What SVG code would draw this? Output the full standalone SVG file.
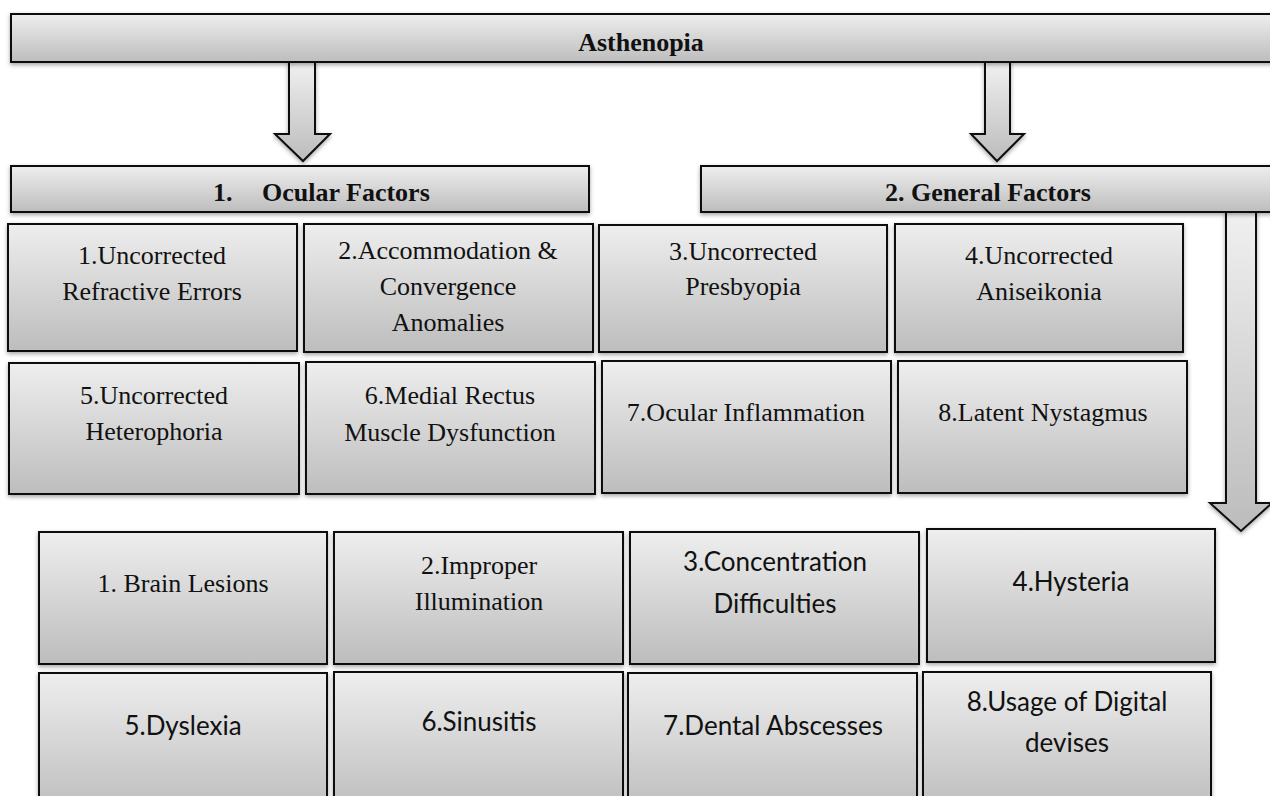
<svg xmlns="http://www.w3.org/2000/svg" width="1270" height="796" viewBox="0 0 1270 796">
<defs>
<linearGradient id="g" x1="0" y1="0" x2="0" y2="1">
<stop offset="0" stop-color="#eeeeee"/>
<stop offset="1" stop-color="#bdbdbd"/>
</linearGradient>
<linearGradient id="ga" x1="0" y1="0" x2="0" y2="1">
<stop offset="0" stop-color="#f0f0f0"/>
<stop offset="1" stop-color="#bcbcbc"/>
</linearGradient>
<filter id="sh" x="-5%" y="-5%" width="110%" height="120%">
<feDropShadow dx="0" dy="2" stdDeviation="2" flood-color="#000" flood-opacity="0.35"/>
</filter>
</defs>
<style>
.b{fill:url(#g);stroke:#111;stroke-width:2;filter:url(#sh)}
.a{fill:url(#ga);stroke:#111;stroke-width:2;stroke-linejoin:miter;filter:url(#sh)}
.t{font-family:"Liberation Serif","Times New Roman",serif;font-size:26px;fill:#111;text-anchor:middle}
.h{font-family:"Liberation Serif","Times New Roman",serif;font-size:26px;font-weight:bold;fill:#111}
.c{font-family:Lato,"Liberation Sans",sans-serif;font-size:26px;fill:#111;text-anchor:middle}
</style>
<rect width="1270" height="796" fill="#fff"/>

<g id="connectors">
<path class="a" d="M289,62 H315 V134 H330 L303,161 L275,134 H289 Z"/>
<path class="a" d="M985,62 H1010 V134 H1024 L997,161 L971,134 H985 Z"/>
<path class="a" d="M1226,212 H1256 V503 H1272 L1241,531 L1210,503 H1226 Z"/>
</g>

<g id="asthenopia">
<rect class="b" x="11" y="14" width="1270" height="48"/>
<text class="h" x="641" y="51" text-anchor="middle">Asthenopia</text>
</g>

<g id="ocular-factors">
<rect class="b" x="11" y="166" width="578" height="46"/>
<text class="h" x="213" y="201">1.</text>
<text class="h" x="262" y="201">Ocular Factors</text>
</g>

<g id="general-factors">
<rect class="b" x="701" y="166" width="580" height="46"/>
<text class="h" x="988" y="201" text-anchor="middle">2. General Factors</text>
</g>

<g id="o1">
<rect class="b" x="8" y="224" width="289" height="127"/>
<text class="t" x="152" y="264">1.Uncorrected</text>
<text class="t" x="152" y="300">Refractive Errors</text>
</g>
<g id="o2">
<rect class="b" x="304" y="224" width="289" height="128"/>
<text class="t" x="448" y="259">2.Accommodation &amp;</text>
<text class="t" x="448" y="295">Convergence</text>
<text class="t" x="448" y="331">Anomalies</text>
</g>
<g id="o3">
<rect class="b" x="599" y="225" width="288" height="127"/>
<text class="t" x="743" y="260">3.Uncorrected</text>
<text class="t" x="743" y="295">Presbyopia</text>
</g>
<g id="o4">
<rect class="b" x="895" y="224" width="288" height="128"/>
<text class="t" x="1039" y="264">4.Uncorrected</text>
<text class="t" x="1039" y="300">Aniseikonia</text>
</g>
<g id="o5">
<rect class="b" x="9" y="363" width="290" height="131"/>
<text class="t" x="154" y="404">5.Uncorrected</text>
<text class="t" x="154" y="440">Heterophoria</text>
</g>
<g id="o6">
<rect class="b" x="306" y="362" width="289" height="132"/>
<text class="t" x="450" y="404">6.Medial Rectus</text>
<text class="t" x="450" y="441">Muscle Dysfunction</text>
</g>
<g id="o7">
<rect class="b" x="602" y="361" width="289" height="132"/>
<text class="t" x="746" y="421">7.Ocular Inflammation</text>
</g>
<g id="o8">
<rect class="b" x="898" y="361" width="289" height="132"/>
<text class="t" x="1043" y="421">8.Latent Nystagmus</text>
</g>

<g id="g1">
<rect class="b" x="39" y="532" width="288" height="132"/>
<text class="t" x="183" y="592">1. Brain Lesions</text>
</g>
<g id="g2">
<rect class="b" x="334" y="532" width="289" height="132"/>
<text class="t" x="479" y="574">2.Improper</text>
<text class="t" x="479" y="610">Illumination</text>
</g>
<g id="g3">
<rect class="b" x="630" y="532" width="289" height="132"/>
<text class="c" x="775" y="571">3.Concentration</text>
<text class="c" x="775" y="613">Difficulties</text>
</g>
<g id="g4">
<rect class="b" x="927" y="529" width="288" height="133"/>
<text class="c" x="1071" y="591">4.Hysteria</text>
</g>
<g id="g5">
<rect class="b" x="39" y="673" width="288" height="140"/>
<text class="c" x="183" y="735">5.Dyslexia</text>
</g>
<g id="g6">
<rect class="b" x="334" y="672" width="289" height="140"/>
<text class="c" x="479" y="731">6.Sinusitis</text>
</g>
<g id="g7">
<rect class="b" x="628" y="673" width="289" height="140"/>
<text class="c" x="773" y="735">7.Dental Abscesses</text>
</g>
<g id="g8">
<rect class="b" x="923" y="672" width="288" height="140"/>
<text class="c" x="1067" y="711">8.Usage of Digital</text>
<text class="c" x="1067" y="752">devises</text>
</g>
</svg>
